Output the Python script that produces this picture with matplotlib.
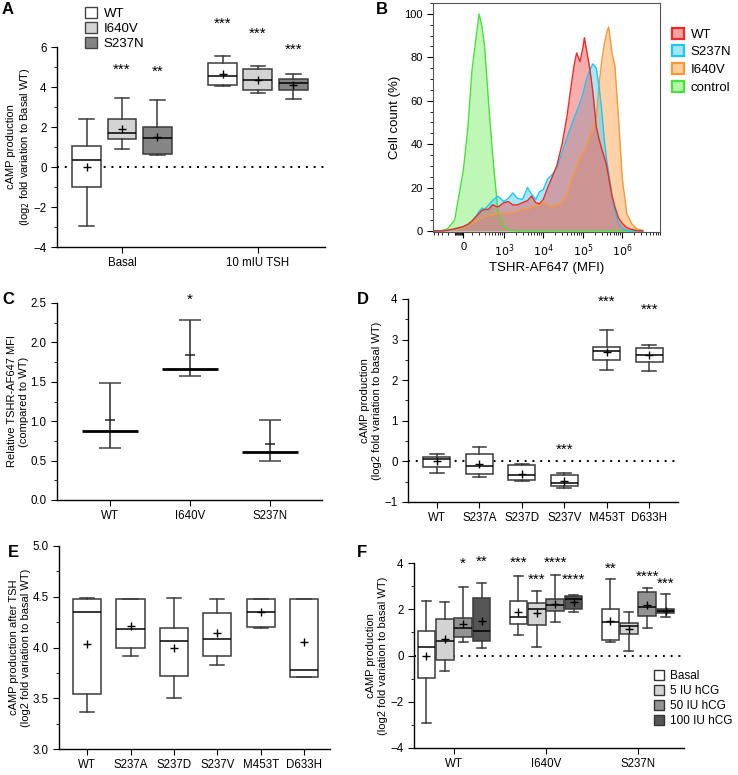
import numpy as np
import matplotlib.pyplot as plt
from matplotlib.patches import Patch
from matplotlib.ticker import MultipleLocator, FormatStrFormatter

plt.rcParams['font.family'] = ['Liberation Sans', 'DejaVu Sans']
plt.rcParams['font.size'] = 8.5
plt.rcParams['axes.linewidth'] = 1.0
plt.rcParams['xtick.major.size'] = 4
plt.rcParams['ytick.major.size'] = 4
plt.rcParams['xtick.minor.size'] = 2.5
plt.rcParams['ytick.minor.size'] = 2.5
plt.rcParams['axes.labelpad'] = 2

W, H = 738, 775
TICK = 8.3
LAB = 8.0

# ---------- A: cAMP, basal vs TSH ----------
a_groups = ["Basal", "10 mIU TSH"]
a_names = ["WT", "I640V", "S237N"]
a_colors = ["white", "#d4d4d4", "#858585"]
# (low whisker, q1, median, q3, high whisker, mean)
a_wt = [(-2.93, -0.98, 0.35, 1.05, 2.38, 0.0), (4.03, 4.10, 4.53, 5.18, 5.55, 4.65)]
a_i640v = [(0.88, 1.38, 1.68, 2.40, 3.45, 1.88), (3.68, 3.83, 4.33, 4.92, 5.05, 4.33)]
a_s237n = [(0.58, 0.67, 1.43, 2.02, 3.33, 1.50), (3.42, 3.83, 4.22, 4.42, 4.67, 4.10)]
a_stars = [["", "***", "**"], ["***", "***", "***"]]
a_star_y = [[0, 4.85, 4.77], [7.15, 6.65, 5.88]]

# ---------- B: flow cytometry histograms ----------
b_mfi = [-600, -300, -200, -100, 0, 50, 100, 150, 200, 250, 300, 400, 500, 700,
         1000, 1300, 1700, 2200, 3000, 4000, 5000, 6500, 8000, 1e4, 1.3e4, 1.7e4,
         2.2e4, 3e4, 4e4, 5e4, 6e4, 7e4, 8.5e4, 1e5, 1.1e5, 1.2e5, 1.5e5, 1.8e5,
         2.2e5, 2.6e5, 3e5, 3.5e5, 4e5, 4.5e5, 5.5e5, 6.5e5, 8e5, 1e6, 1.3e6,
         1.7e6, 2.3e6, 3.3e6]
b_wt = [0, 0, 0.3, 1, 2, 3, 4.5, 6.5, 8, 9.5, 9.8, 10, 12, 11,
        13, 13.5, 12, 12, 13, 14, 16, 13, 12.5, 14.5, 20, 25,
        30, 40, 53, 66, 76, 82, 78, 84, 89, 85, 75, 64,
        48, 42, 38, 34, 30, 25, 16, 11, 6, 3.5, 1.5,
        0.7, 0.2, 0]
b_s237n = [0, 0, 0.2, 0.8, 2, 3, 4.5, 6.5, 9, 10.5, 10, 12, 14, 16,
           13.5, 15, 17.5, 15, 14.5, 20, 17, 14.5, 18, 19, 24, 26,
           29, 36, 43, 48, 52, 55, 59, 63, 66, 69, 74, 77,
           75, 66, 56, 42, 33, 27, 16, 9, 3.5, 1, 0.2,
           0, 0, 0]
b_i640v = [0, 0, 0.2, 0.5, 1.5, 2.5, 3.5, 4.5, 5.5, 6, 6.5, 7, 7.5, 8,
           8, 8, 8.5, 9, 10, 10, 11, 11.5, 12, 13, 12, 11,
           12, 13, 17, 23, 26, 29, 34, 36, 37, 38, 44, 47,
           52, 68, 78, 86, 91, 94, 82, 76, 52, 24, 8,
           3.5, 1, 0.2]
b_control = [0, 0.2, 1, 5, 28, 47, 74, 88, 100, 94, 85, 57, 36, 9,
             2, 0.7, 0.2, 0, 0, 0, 0, 0, 0, 0, 0, 0,
             0, 0, 0, 0, 0, 0, 0, 0, 0, 0, 0, 0,
             0, 0, 0, 0, 0, 0, 0, 0, 0, 0, 0,
             0, 0, 0]
b_names = ["WT", "S237N", "I640V", "control"]
b_line_colors = ["#ec2a2a", "#1ec6f2", "#f7993a", "#47e23a"]
b_fill_colors = ["#f25a5a", "#4fd2f5", "#ffa54f", "#7ef06e"]
b_legend_fill = ["#f7a3a3", "#a5e7fa", "#ffcf9c", "#b5f7a9"]

# ---------- C: relative MFI ----------
c_names = ["WT", "I640V", "S237N"]
c_min = [0.655, 1.57, 0.49]
c_max = [1.49, 2.29, 1.01]
c_center = [0.88, 1.66, 0.61]
c_mean = [1.01, 1.84, 0.705]
c_stars = ["", "*", ""]
c_star_y = [0, 2.54, 0]

# ---------- D: basal cAMP, mutants ----------
d_names = ["WT", "S237A", "S237D", "S237V", "M453T", "D633H"]
d_stats = [(-0.29, -0.15, 0.07, 0.12, 0.18, 0.0),
           (-0.39, -0.32, -0.11, 0.19, 0.35, -0.07),
           (-0.48, -0.45, -0.34, -0.10, -0.07, -0.30),
           (-0.66, -0.60, -0.53, -0.33, -0.29, -0.48),
           (2.26, 2.50, 2.72, 2.81, 3.23, 2.69),
           (2.22, 2.45, 2.63, 2.79, 2.87, 2.62)]
d_stars = ["", "", "", "***", "***", "***"]
d_star_y = [0, 0, 0, 0.29, 3.92, 3.74]

# ---------- E: cAMP after TSH, mutants ----------
e_names = ["WT", "S237A", "S237D", "S237V", "M453T", "D633H"]
e_stats = [(3.365, 3.54, 4.35, 4.48, 4.49, 4.03),
           (3.915, 4.00, 4.18, 4.48, 4.48, 4.21),
           (3.50, 3.72, 4.06, 4.19, 4.49, 4.00),
           (3.83, 3.915, 4.08, 4.34, 4.48, 4.14),
           (4.19, 4.20, 4.35, 4.48, 4.48, 4.35),
           (3.71, 3.71, 3.78, 4.48, 4.48, 4.05)]

# ---------- F: hCG stimulation ----------
f_groups = ["WT", "I640V", "S237N"]
f_doses = ["Basal", "5 IU hCG", "50 IU hCG", "100 IU hCG"]
f_colors = ["white", "#d3d3d3", "#929292", "#555555"]
f_basal = [(-2.92, -0.97, 0.35, 1.06, 2.37, 0.0),
           (0.87, 1.38, 1.66, 2.37, 3.44, 1.88),
           (0.58, 0.67, 1.45, 2.01, 3.31, 1.50)]
f_5iu = [(-0.68, -0.21, 0.63, 1.58, 2.31, 0.70),
         (0.38, 1.32, 2.02, 2.25, 2.77, 1.82),
         (0.19, 0.91, 1.27, 1.40, 1.87, 1.15)]
f_50iu = [(0.58, 0.79, 1.20, 1.61, 2.95, 1.38),
          (1.45, 1.92, 2.17, 2.43, 3.50, 2.22),
          (1.17, 1.72, 2.08, 2.73, 2.93, 2.17)]
f_100iu = [(0.34, 0.64, 1.07, 2.50, 3.13, 1.48),
           (1.88, 2.02, 2.43, 2.57, 2.60, 2.33),
           (1.65, 1.82, 1.91, 2.00, 2.67, 1.94)]
f_stars = [["", "", "*", "**"], ["***", "***", "****", "****"], ["**", "", "****", "***"]]
f_star_y = [[0, 0, 3.98, 4.04], [4.03, 3.29, 4.01, 3.28], [3.74, 0, 3.41, 3.08]]


def px_axes(fig, left, top, right, bottom):
    return fig.add_axes([left / W, 1 - bottom / H, (right - left) / W, (bottom - top) / H])


def draw_boxes(ax, stats, positions, width, colors, edge="#3a3a3a"):
    st = [dict(whislo=s[0], q1=s[1], med=s[2], q3=s[3], whishi=s[4], mean=s[5]) for s in stats]
    res = ax.bxp(st, positions=positions, widths=width, capwidths=width / 2,
                 patch_artist=True, showmeans=True, showfliers=False, manage_ticks=False,
                 boxprops=dict(edgecolor=edge, linewidth=1.1),
                 whiskerprops=dict(color=edge, linewidth=1.1),
                 capprops=dict(color=edge, linewidth=1.1),
                 medianprops=dict(color="black", linewidth=1.1),
                 meanprops=dict(marker="+", markeredgecolor="black", markersize=6,
                                markeredgewidth=1.0))
    for patch, c in zip(res["boxes"], colors):
        patch.set_facecolor(c)
    return res


def simple_axes(ax):
    ax.spines["top"].set_visible(False)
    ax.spines["right"].set_visible(False)
    ax.tick_params(labelsize=TICK)


def star(ax, x, y, s, size=11):
    if s:
        ax.text(x, y, s, ha="center", va="center", fontsize=size, clip_on=False)


fig = plt.figure(figsize=(W / 100, H / 100), dpi=100)

# ---------------- A ----------------
ax = px_axes(fig, 57, 47, 325, 247)
simple_axes(ax)
a_all = [a_wt, a_i640v, a_s237n]
a_off = [-0.26, 0.0, 0.26]
for g in range(len(a_groups)):
    draw_boxes(ax, [a_all[k][g] for k in range(3)], [g + o for o in a_off], 0.213, a_colors)
    for k in range(3):
        star(ax, g + a_off[k], a_star_y[g][k], a_stars[g][k])
ax.axhline(0, color="black", lw=1.4, ls=(0, (1, 3)), zorder=0)
ax.set_xlim(-0.478, 1.493)
ax.set_ylim(-4, 6)
ax.set_xticks(range(len(a_groups)))
ax.set_xticklabels(a_groups)
ax.yaxis.set_major_locator(MultipleLocator(2))
ax.yaxis.set_minor_locator(MultipleLocator(1))
ax.set_ylabel("cAMP production\n(log$_2$ fold variation to Basal WT)", fontsize=LAB,
              labelpad=1)
handles = [Patch(facecolor=c, edgecolor="#444", lw=1) for c in a_colors]
ax.legend(handles, a_names, loc="upper left", bbox_to_anchor=(0.085, 1.225), frameon=False,
          fontsize=9.5, handlelength=0.9, handleheight=0.9, handletextpad=0.5, labelspacing=0.15,
          borderaxespad=0)

# ---------------- B ----------------
ax = px_axes(fig, 433, 3, 660, 232)
ax.set_xscale("asinh", linear_width=190)
b_all = [b_wt, b_s237n, b_i640v, b_control]
order = [3, 2, 1, 0]
for i in order:
    ax.fill_between(b_mfi, b_all[i], color=b_fill_colors[i], alpha=0.5, lw=0)
    ax.plot(b_mfi, b_all[i], color=b_line_colors[i], lw=1.0)
ax.set_xlim(-540, 3.3e6)
ax.set_ylim(-0.5, 105)
ax.set_xticks([0, 1e3, 1e4, 1e5, 1e6])
ax.set_xticklabels(["0", "$10^3$", "$10^4$", "$10^5$", "$10^6$"], fontsize=8)
minor = [-500, -400, -300, -200, -100] + list(range(-90, 0, 10))
for dec in [100, 1000, 10000, 100000, 1000000]:
    minor += [m * dec for m in range(1 if dec == 100 else 2, 10)]
ax.set_xticks(minor, minor=True)
ax.set_yticks(range(0, 101, 20))
ax.yaxis.set_minor_locator(MultipleLocator(5))
ax.tick_params(labelsize=8)
for sp in ax.spines.values():
    sp.set_color("#555555")
    sp.set_linewidth(0.8)
ax.set_ylabel("Cell count (%)", fontsize=9.5)
ax.set_xlabel("TSHR-AF647 (MFI)", fontsize=9.5)
handles = [Patch(facecolor=b_legend_fill[i], edgecolor=b_line_colors[i], lw=1.6)
           for i in range(4)]
ax.legend(handles, b_names, loc="upper left", bbox_to_anchor=(1.03, 0.915), frameon=False,
          fontsize=9.5, handlelength=0.9, handleheight=0.9, handletextpad=0.5,
          labelspacing=0.35, borderaxespad=0)

# ---------------- C ----------------
ax = px_axes(fig, 57, 303, 322, 500)
simple_axes(ax)
xc = np.arange(len(c_names))
ax.vlines(xc, c_min, c_max, color="#222222", lw=1.1)
ax.hlines(c_min, xc - 0.135, xc + 0.135, color="#444444", lw=1.1)
ax.hlines(c_max, xc - 0.135, xc + 0.135, color="#444444", lw=1.1)
ax.hlines(c_center, xc - 0.35, xc + 0.35, color="black", lw=2.0)
ax.hlines(c_mean, xc - 0.065, xc + 0.065, color="#222222", lw=1.1)
for i in range(len(c_names)):
    star(ax, xc[i], c_star_y[i], c_stars[i])
ax.set_xlim(-0.66, 2.65)
ax.set_ylim(0, 2.5)
ax.set_xticks(xc)
ax.set_xticklabels(c_names)
ax.yaxis.set_major_locator(MultipleLocator(0.5))
ax.yaxis.set_minor_locator(MultipleLocator(0.25))
ax.yaxis.set_major_formatter(FormatStrFormatter("%.1f"))
ax.set_ylabel("Relative TSHR-AF647 MFI\n(compared to WT)", fontsize=LAB, labelpad=1)

# ---------------- D ----------------
ax = px_axes(fig, 408, 299, 678, 502)
simple_axes(ax)
xd = np.arange(len(d_names))
draw_boxes(ax, d_stats, xd, 0.64, ["white"] * len(d_names))
for i in range(len(d_names)):
    star(ax, xd[i], d_star_y[i], d_stars[i])
ax.axhline(0, color="black", lw=1.4, ls=(0, (1, 3)), zorder=0)
ax.set_xlim(-0.68, 5.68)
ax.set_ylim(-1, 4)
ax.set_xticks(xd)
ax.set_xticklabels(d_names)
ax.yaxis.set_major_locator(MultipleLocator(1))
ax.yaxis.set_minor_locator(MultipleLocator(0.5))
ax.set_ylabel("cAMP production\n(log2 fold variation to basal WT)", fontsize=LAB)

# ---------------- E ----------------
ax = px_axes(fig, 59, 546, 330, 749)
simple_axes(ax)
xe = np.arange(len(e_names))
draw_boxes(ax, e_stats, xe, 0.65, ["white"] * len(e_names))
ax.set_xlim(-0.65, 5.6)
ax.set_ylim(3.0, 5.0)
ax.set_xticks(xe)
ax.set_xticklabels(e_names)
ax.yaxis.set_major_locator(MultipleLocator(0.5))
ax.yaxis.set_minor_locator(MultipleLocator(0.25))
ax.yaxis.set_major_formatter(FormatStrFormatter("%.1f"))
ax.set_ylabel("cAMP production after TSH\n(log2 fold variation to basal WT)", fontsize=LAB,
              labelpad=1)

# ---------------- F ----------------
ax = px_axes(fig, 414, 563, 684, 748)
simple_axes(ax)
f_all = [f_basal, f_5iu, f_50iu, f_100iu]
f_off = [-0.3, -0.1, 0.1, 0.3]
for g in range(len(f_groups)):
    draw_boxes(ax, [f_all[k][g] for k in range(4)], [g + o for o in f_off], 0.19, f_colors)
    for k in range(4):
        star(ax, g + f_off[k], f_star_y[g][k], f_stars[g][k])
ax.axhline(0, color="black", lw=1.4, ls=(0, (1, 3)), zorder=0)
ax.set_xlim(-0.435, 2.5)
ax.set_ylim(-4, 4)
ax.set_xticks(range(len(f_groups)))
ax.set_xticklabels(f_groups)
ax.yaxis.set_major_locator(MultipleLocator(2))
ax.yaxis.set_minor_locator(MultipleLocator(1))
ax.set_ylabel("cAMP production\n(log2 fold variation to basal WT)", fontsize=LAB)
handles = [Patch(facecolor=c, edgecolor="#333", lw=1) for c in f_colors]
ax.legend(handles, f_doses, loc="upper left", bbox_to_anchor=(0.87, 0.445), frameon=False,
          fontsize=8.5, handlelength=0.9, handleheight=0.9, handletextpad=0.5,
          labelspacing=0.25, borderaxespad=0)

# panel letters
for letter, x, y in [("A", 2, 2), ("B", 376, 2), ("C", 2, 292), ("D", 357, 292),
                     ("E", 8, 545), ("F", 357, 545)]:
    fig.text(x / W, 1 - y / H, letter, fontsize=12, fontweight="bold", va="top", ha="left")

fig.savefig("out.png", dpi=100)
